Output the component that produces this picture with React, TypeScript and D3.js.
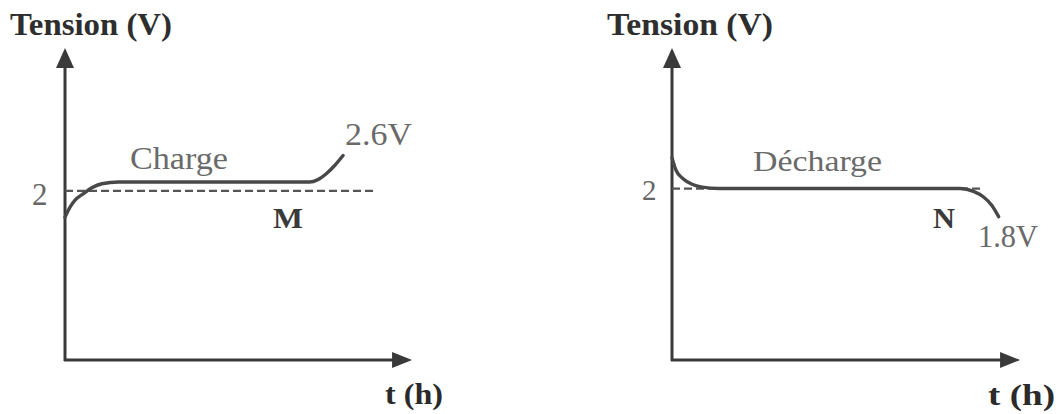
import React, { useEffect, useRef } from 'react';
import * as d3 from 'd3';

// charge curve (t in h, tension in V)
const chargeT = [0, 0.15, 0.3, 0.55, 0.8, 1.1, 1.6, 7.3, 7.55, 7.8, 8.05, 8.3];
const chargeV = [1.55, 1.72, 1.84, 1.95, 2.05, 2.12, 2.15, 2.15, 2.19, 2.29, 2.43, 2.6];
// décharge curve
const dechargeT = [0, 0.12, 0.33, 0.6, 0.9, 1.4, 8.6, 9.0, 9.3, 9.55, 9.75];
const dechargeV = [2.22, 2.13, 2.07, 2.03, 2.01, 2.0, 2.0, 1.98, 1.94, 1.88, 1.8];

const refLevel = 2;
const refEndT = 9.25;
const tickLabels = ['2'];

const FONT = '"Liberation Serif", "DejaVu Serif", serif';

interface PanelOpts {
  x0: number;
  yDomain: [number, number];
  ts: number[];
  vs: number[];
  tipT: number;
  titleX: number; titleLen: number;
  tickX: number; tickY: number; tickSize: number;
  name: string; nameX: number; nameY: number; nameSize: number; nameLen: number;
  endLabel: string; endX: number; endY: number; endLen: number;
  point: string; pointX: number; pointY: number; pointLen: number;
  tX: number; tY: number; tLen: number;
}

function drawPanel(svg: d3.Selection<SVGSVGElement, unknown, null, undefined>, o: PanelOpts) {
  const x = d3.scaleLinear().domain([0, 10]).range([o.x0, o.x0 + 335]);
  const y = d3.scaleLinear().domain(o.yDomain).range([360, 48]);
  const g = svg.append('g');
  const axisCol = '#3a3a3a';
  const ax = x(0), ay = y(o.yDomain[0]);
  const topY = y(o.yDomain[1]);
  const tipX = x(o.tipT);

  // axes
  g.append('line').attr('x1', ax).attr('y1', ay + 1).attr('x2', ax).attr('y2', topY + 14)
    .attr('stroke', axisCol).attr('stroke-width', 3);
  g.append('line').attr('x1', ax - 1).attr('y1', ay).attr('x2', tipX - 14).attr('y2', ay)
    .attr('stroke', axisCol).attr('stroke-width', 3);
  g.append('path')
    .attr('d', `M${ax},${topY} L${ax - 9},${topY + 20} L${ax + 9},${topY + 20} Z`)
    .attr('fill', axisCol);
  g.append('path')
    .attr('d', `M${tipX},${ay} L${tipX - 20},${ay - 8} L${tipX - 20},${ay + 8} Z`)
    .attr('fill', axisCol);

  // dashed reference at 2 V
  g.append('line')
    .attr('x1', x(0)).attr('x2', x(refEndT))
    .attr('y1', y(refLevel)).attr('y2', y(refLevel))
    .attr('stroke', '#555').attr('stroke-width', 2.2)
    .attr('stroke-dasharray', '8,4');

  // curve
  const pts = o.ts.map((t, i) => [t, o.vs[i]] as [number, number]);
  const line = d3.line<[number, number]>()
    .x(d => x(d[0])).y(d => y(d[1]))
    .curve(d3.curveMonotoneX);
  g.append('path').attr('d', line(pts))
    .attr('fill', 'none').attr('stroke', '#484848').attr('stroke-width', 3.4)
    .attr('stroke-linecap', 'round');

  const txt = (s: string, tx: number, ty: number, size: number, bold: boolean, col: string, len?: number) => {
    const el = g.append('text').text(s)
      .attr('x', tx).attr('y', ty)
      .attr('font-family', FONT).attr('font-size', size)
      .attr('font-weight', bold ? 'bold' : 'normal')
      .attr('fill', col);
    if (len) el.attr('textLength', len).attr('lengthAdjust', 'spacingAndGlyphs');
  };

  txt('Tension (V)', o.titleX, 35, 31, true, '#2e2e2e', o.titleLen);
  txt(tickLabels[0], o.tickX, o.tickY, o.tickSize, false, '#666');
  txt(o.name, o.nameX, o.nameY, o.nameSize, false, '#6a6a6a', o.nameLen);
  txt(o.endLabel, o.endX, o.endY, 31, false, '#6a6a6a', o.endLen);
  txt(o.point, o.pointX, o.pointY, 29, true, '#3a3a3a', o.pointLen);
  txt('t (h)', o.tX, o.tY, 29, true, '#2a2a2a', o.tLen);
}

export default function App() {
  const ref = useRef<SVGSVGElement>(null);
  useEffect(() => {
    const svg = d3.select(ref.current!);
    svg.selectAll('*').remove();
    svg.append('rect').attr('width', 1060).attr('height', 414).attr('fill', '#fff');
    drawPanel(svg as any, {
      x0: 65, yDomain: [-0.88, 4.43], ts: chargeT, vs: chargeV, tipT: 10.36,
      titleX: 10, titleLen: 162,
      tickX: 32, tickY: 205, tickSize: 31,
      name: 'Charge', nameX: 130, nameY: 169, nameSize: 32, nameLen: 98,
      endLabel: '2.6V', endX: 345, endY: 145, endLen: 67,
      point: 'M', pointX: 273, pointY: 228, pointLen: 30,
      tX: 385, tY: 404, tLen: 58,
    });
    drawPanel(svg as any, {
      x0: 672, yDomain: [0.78, 3.0], ts: dechargeT, vs: dechargeV, tipT: 10.39,
      titleX: 607, titleLen: 166,
      tickX: 642, tickY: 200, tickSize: 29,
      name: 'Décharge', nameX: 753, nameY: 171, nameSize: 30, nameLen: 129,
      endLabel: '1.8V', endX: 978, endY: 247, endLen: 60,
      point: 'N', pointX: 933, pointY: 228, pointLen: 22,
      tX: 988, tY: 405, tLen: 67,
    });
  }, []);
  return (
    <svg ref={ref} width={1060} height={414}
      style={{ position: 'absolute', left: 0, top: 0, display: 'block' }} />
  );
}
